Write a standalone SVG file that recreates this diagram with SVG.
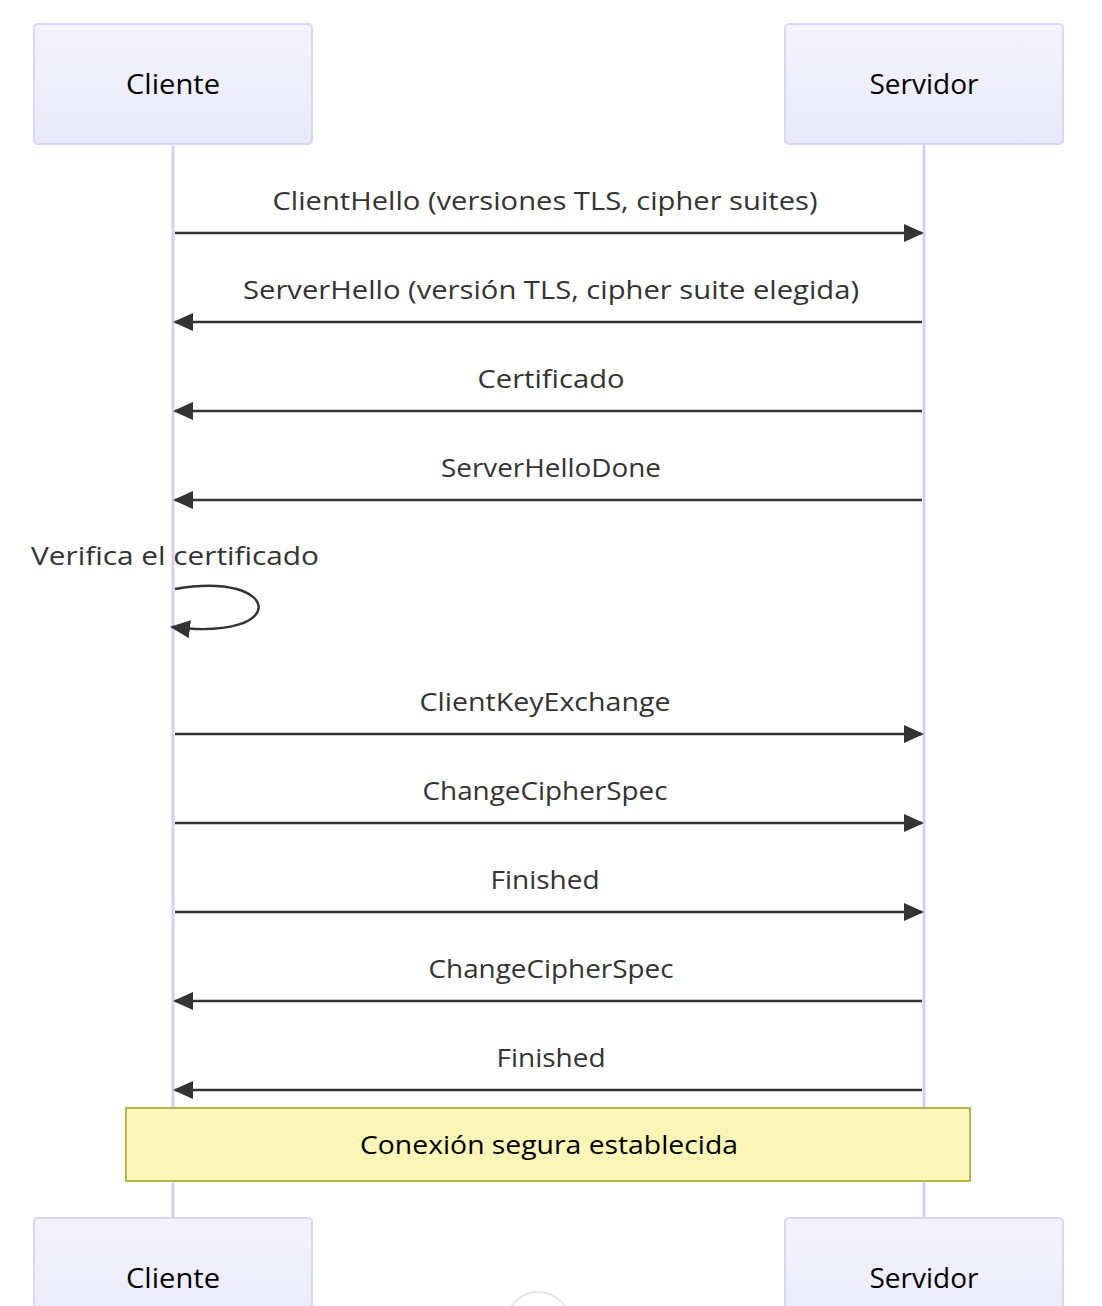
<svg xmlns="http://www.w3.org/2000/svg" width="1102" height="1306" viewBox="0 0 1102 1306">
<style>
text{font-family:"Open Sans","DejaVu Sans",sans-serif;fill:#222;}
.actor rect{fill:url(#ag);stroke:#dcd5f5;stroke-width:2;}
.actor text{font-size:28px;fill:#000;text-anchor:middle;}
.msg{font-size:26px;text-anchor:middle;fill:#333;}
.line{stroke:#333;stroke-width:2.4;fill:none;}
.life{stroke:#d6cff2;stroke-width:3;}
.note rect{fill:#fcf5b8;stroke:#b5b54a;stroke-width:2;}
.note text{font-size:26px;fill:#000;text-anchor:middle;}
</style>
<defs>
<linearGradient id="ag" x1="0" y1="0" x2="0" y2="1">
<stop offset="0" stop-color="#f4f3fd"/>
<stop offset="1" stop-color="#eae9fa"/>
</linearGradient>
<marker id="ah" markerWidth="20" markerHeight="20" refX="18" refY="9" orient="auto" markerUnits="userSpaceOnUse">
<path d="M0,0 L20,9 L0,18 z" fill="#333"/>
</marker>
</defs>
<rect width="1102" height="1306" fill="#fff"/>
<g id="lifelines">
<line class="life" x1="173" y1="144" x2="173" y2="1218"/>
<line class="life" x1="924" y1="144" x2="924" y2="1218"/>
</g>
<g id="actor-cliente-top" class="actor"><rect x="34" y="24" width="278" height="120" rx="4"/><text x="173" y="94" textLength="94" lengthAdjust="spacingAndGlyphs">Cliente</text></g>
<g id="actor-servidor-top" class="actor"><rect x="785" y="24" width="278" height="120" rx="4"/><text x="924" y="94" textLength="109" lengthAdjust="spacingAndGlyphs">Servidor</text></g>
<g id="actor-cliente-bottom" class="actor"><rect x="34" y="1218" width="278" height="120" rx="4"/><text x="173" y="1288" textLength="94" lengthAdjust="spacingAndGlyphs">Cliente</text></g>
<g id="actor-servidor-bottom" class="actor"><rect x="785" y="1218" width="278" height="120" rx="4"/><text x="924" y="1288" textLength="109" lengthAdjust="spacingAndGlyphs">Servidor</text></g>
<g id="connectors">
<line class="line" x1="175" y1="233" x2="922" y2="233" marker-end="url(#ah)"/>
<line class="line" x1="922" y1="322" x2="175" y2="322" marker-end="url(#ah)"/>
<line class="line" x1="922" y1="411" x2="175" y2="411" marker-end="url(#ah)"/>
<line class="line" x1="922" y1="500" x2="175" y2="500" marker-end="url(#ah)"/>
<path class="line" d="M175,589 C282,570 292,642 172,627" marker-end="url(#ah)"/>
<line class="line" x1="175" y1="734" x2="922" y2="734" marker-end="url(#ah)"/>
<line class="line" x1="175" y1="823" x2="922" y2="823" marker-end="url(#ah)"/>
<line class="line" x1="175" y1="912" x2="922" y2="912" marker-end="url(#ah)"/>
<line class="line" x1="922" y1="1001" x2="175" y2="1001" marker-end="url(#ah)"/>
<line class="line" x1="922" y1="1090" x2="175" y2="1090" marker-end="url(#ah)"/>
</g>
<g id="labels">
<text class="msg" x="545" y="210" textLength="545" lengthAdjust="spacingAndGlyphs">ClientHello (versiones TLS, cipher suites)</text>
<text class="msg" x="551" y="299" textLength="616" lengthAdjust="spacingAndGlyphs">ServerHello (versión TLS, cipher suite elegida)</text>
<text class="msg" x="551" y="388" textLength="147" lengthAdjust="spacingAndGlyphs">Certificado</text>
<text class="msg" x="551" y="477" textLength="220" lengthAdjust="spacingAndGlyphs">ServerHelloDone</text>
<text class="msg" x="175" y="565" textLength="288" lengthAdjust="spacingAndGlyphs">Verifica el certificado</text>
<text class="msg" x="545" y="711" textLength="251" lengthAdjust="spacingAndGlyphs">ClientKeyExchange</text>
<text class="msg" x="545" y="800" textLength="245" lengthAdjust="spacingAndGlyphs">ChangeCipherSpec</text>
<text class="msg" x="545" y="889" textLength="109" lengthAdjust="spacingAndGlyphs">Finished</text>
<text class="msg" x="551" y="978" textLength="245" lengthAdjust="spacingAndGlyphs">ChangeCipherSpec</text>
<text class="msg" x="551" y="1067" textLength="109" lengthAdjust="spacingAndGlyphs">Finished</text>
</g>
<g id="note" class="note"><rect x="126" y="1108" width="844" height="73"/><text x="549" y="1154" textLength="378" lengthAdjust="spacingAndGlyphs">Conexión segura establecida</text></g>
<circle cx="538" cy="1324" r="32" fill="none" stroke="#e6e6e6" stroke-width="2"/>
</svg>
